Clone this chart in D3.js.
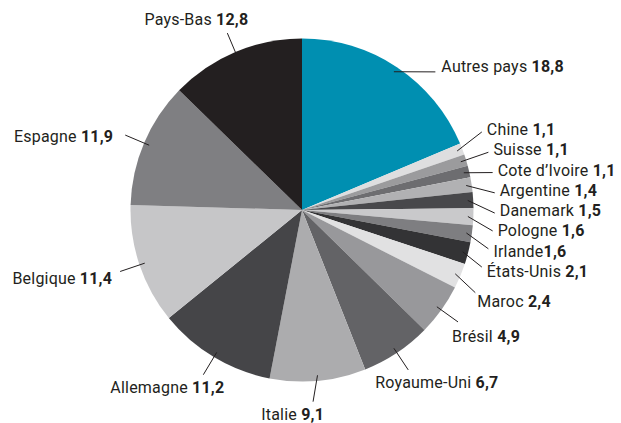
<!DOCTYPE html>
<html><head><meta charset="utf-8">
<script src="https://cdn.jsdelivr.net/npm/d3@7"></script>
<style>
html,body{margin:0;padding:0;background:#fff;}
text{font-family:Roboto,"Noto Sans",sans-serif;font-size:16px;letter-spacing:0.2px;fill:#231f20;}
</style></head>
<body><svg id="c" width="621" height="423"></svg>
<script>
// ---- data ----
const categories = ["Autres pays","Chine","Suisse","Cote d’Ivoire","Argentine","Danemark","Pologne","Irlande","États-Unis","Maroc","Brésil","Royaume-Uni","Italie","Allemagne","Belgique","Espagne","Pays-Bas"];
const values = [18.8,1.1,1.1,1.1,1.4,1.5,1.6,1.6,2.1,2.4,4.9,6.7,9.1,11.2,11.4,11.9,12.8];
const valueLabels = ["18,8","1,1","1,1","1,1","1,4","1,5","1,6","1,6","2,1","2,4","4,9","6,7","9,1","11,2","11,4","11,9","12,8"];
const colors = ["#008fb1","#dededf","#9b9b9d","#6d6d70","#b1b1b3","#48484b","#c9c9cb","#7e7e81","#333335","#e1e1e2","#98989b","#636366","#acacae","#454548","#c6c6c8","#7f7f82","#231f20"];

// ---- layout ----
const W = 621, H = 423, cx = 302, cy = 210, R = 171.5;
const stackGroup = ["Chine","Suisse","Cote d’Ivoire","Argentine","Danemark","Pologne","Irlande","États-Unis"];
// outer leader end: angle override (deg), text offset from leader end, anchor
const labelLayout = {
  "Autres pays": {angle:44, dx:6, dy:0, anchor:"start"},
  "Maroc": {angle:115.5, dx:2, dy:14, anchor:"start"},
  "Brésil": {dx:-6, dy:20, anchor:"start"},
  "Royaume-Uni": {dx:-33, dy:18, anchor:"start"},
  "Italie": {angle:176.7, dx:11, dy:18, anchor:"end"},
  "Allemagne": {dx:21, dy:18, anchor:"end"},
  "Belgique": {dx:-8, dy:13, anchor:"end"},
  "Espagne": {dx:-12, dy:7, anchor:"end"},
  "Pays-Bas": {dx:21, dy:-8, anchor:"end"}
};

const svg = d3.select("#c");
const g = svg.append("g").attr("transform", `translate(${cx},${cy})`);
const data = categories.map((c,i)=>({name:c, value:values[i], label:valueLabels[i], color:colors[i]}));
const pie = d3.pie().sort(null).value(d=>d.value).startAngle(0).endAngle(2*Math.PI);
const arcs = pie(data);
const arc = d3.arc().innerRadius(0).outerRadius(R);

g.selectAll("path.slice").data(arcs).join("path")
  .attr("class","slice").attr("d", arc).attr("fill", d=>d.data.color);

const polar = (aRad, r) => [r*Math.sin(aRad), -r*Math.cos(aRad)];
const deg = Math.PI/180;

const labels = g.append("g");
function addLabel(x, y, anchor, d){
  const t = labels.append("text").attr("x", x).attr("y", y).attr("text-anchor", anchor);
  t.append("tspan").text(d.data.name + (d.data.name==="Irlande" ? "" : " "));
  t.append("tspan").attr("font-weight","bold").text(d.data.label);
}
function addLine(p1, p2){
  labels.append("line").attr("x1",p1[0]).attr("y1",p1[1]).attr("x2",p2[0]).attr("y2",p2[1])
    .attr("stroke","#231f20").attr("stroke-width",1);
}

const spacing = 20.3, stackR = 198;
arcs.forEach(d=>{
  const mid = (d.startAngle + d.endAngle)/2;
  const inner = polar(mid, 166);
  const si = stackGroup.indexOf(d.data.name);
  if (si >= 0) {
    const baseline = -4 + (si - (stackGroup.length-1)/2)*spacing;
    const midY = baseline - 5.5;
    const stackMid = -4 - 5.5;
    const dy = midY - stackMid;
    const tx = Math.sqrt(stackR*stackR - dy*dy);
    const endY = baseline - 3 - Math.max(0, Math.min(7, midY*0.12));
    addLine(inner, [tx - 5, endY]);
    addLabel(tx, baseline, "start", d);
  } else {
    const L = labelLayout[d.data.name];
    const a = L.angle !== undefined ? L.angle*deg : mid;
    const outer = polar(a, 192);
    addLine(inner, outer);
    addLabel(outer[0] + L.dx, outer[1] + L.dy, L.anchor, d);
  }
});
</script></body></html>
